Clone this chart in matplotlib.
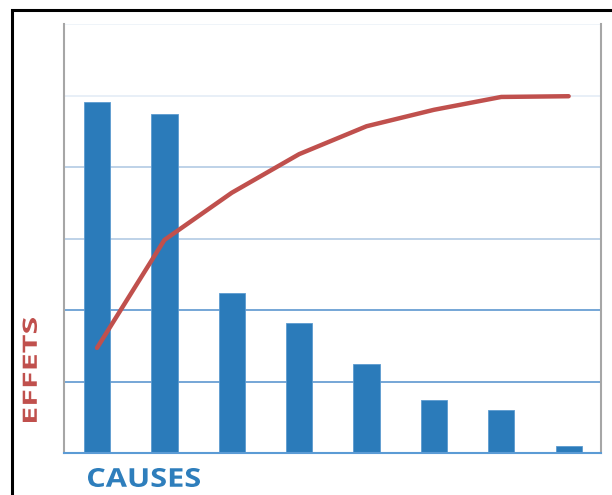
import matplotlib.pyplot as plt
from matplotlib.patches import Rectangle, PathPatch
from matplotlib.textpath import TextPath
from matplotlib.font_manager import FontProperties
from matplotlib.transforms import Affine2D

causes = list(range(8))
effects = [4.91, 4.74, 2.24, 1.82, 1.245, 0.74, 0.60, 0.10]
cumulative = [1.47, 2.98, 3.64, 4.18, 4.57, 4.80, 4.98, 4.99]
grid_levels = [1, 2, 3, 4, 5, 6]
grid_colors = ['#6a9fd3', '#6a9fd3', '#b9cfe6', '#b9cfe6', '#e6eef7', '#eef3f9']

bar_color = '#2b7bba'
line_color = '#c0504d'
W, H = 612, 495

fig = plt.figure(figsize=(6.12, 4.95), dpi=100)
ax = fig.add_axes([0.1046, 0.0848, 0.8774, 0.8667])

for lvl, c in zip(grid_levels, grid_colors):
    ax.axhline(lvl, color=c, linewidth=1.3, zorder=0)

ax.bar(causes, effects, width=0.39, color=bar_color, edgecolor='#5d9bd0',
       linewidth=0.6, zorder=2)
ax.plot(causes, cumulative, color=line_color, linewidth=3.2,
        solid_capstyle='round', zorder=3)

ax.set_xlim(-0.49, 7.48)
ax.set_ylim(0, 6)
ax.set_xticks([])
ax.set_yticks([])
ax.spines['top'].set_visible(False)
ax.spines['left'].set_color('#a6a6a6')
ax.spines['left'].set_linewidth(1.5)
ax.spines['right'].set_color('#a6a6a6')
ax.spines['right'].set_linewidth(1.5)
ax.spines['bottom'].set_color('#5b9bd5')
ax.spines['bottom'].set_linewidth(1.5)


def wide_label(text, color, box_w, box_h, x, y, angle=0):
    """Bold caption stretched to fill a box_w x box_h pixel box."""
    prop = FontProperties(family='Open Sans', weight='bold')
    tp = TextPath((0, 0), text, size=1, prop=prop)
    ext = tp.get_extents()
    tr = (Affine2D().translate(-ext.x0, -ext.y0)
          .scale(box_w / ext.width, box_h / ext.height)
          .rotate_deg(angle).translate(x, y))
    fig.patches.append(PathPatch(tr.transform_path(tp), transform=None,
                                 facecolor=color, edgecolor='none'))


wide_label('CAUSES', '#2e7ebc', 112, 19, 88, H - 487)
wide_label('EFFETS', line_color, 104, 14.5, 37, H - 422, angle=90)

# black frame, only top and left edges fall inside the canvas
fig.patches.append(Rectangle((0.0196, -0.1), 1.2, 1.0798, transform=fig.transFigure,
                             fill=False, edgecolor='black', linewidth=2.2))

fig.savefig('out.png', dpi=100)
